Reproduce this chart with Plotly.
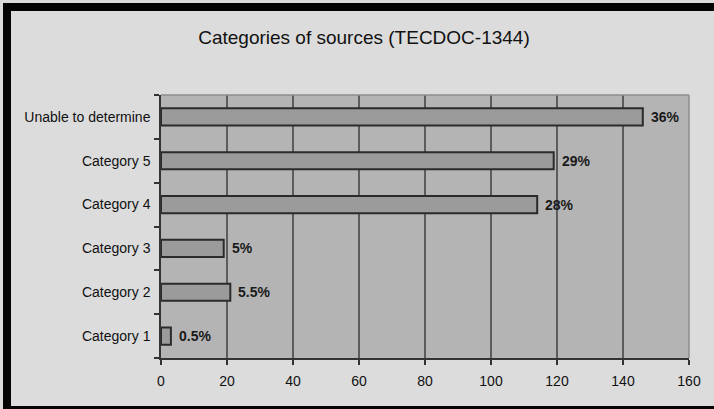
import plotly.graph_objects as go

# Source counts by category (bottom to top on the chart)
categories = ["Category 1", "Category 2", "Category 3", "Category 4", "Category 5", "Unable to determine"]
counts = [3, 21, 19, 114, 119, 146]
share_labels = ["0.5%", "5.5%", "5%", "28%", "29%", "36%"]
x_ticks = [0, 20, 40, 60, 80, 100, 120, 140, 160]

W, H = 714, 409
M_L, M_R, M_T, M_B = 161, 25, 95, 51
PW, PH = W - M_L - M_R, H - M_T - M_B


def px_x(p):
    """Pixel column -> paper x."""
    return (p - M_L) / PW


def px_y(p):
    """Pixel row -> paper y."""
    return (H - M_B - p) / PH


FONT = "Liberation Sans, Arial, sans-serif"

fig = go.Figure(
    go.Bar(
        x=counts,
        y=categories,
        orientation="h",
        marker=dict(color="#9b9b9b", line=dict(color="#2b2b2b", width=2)),
        hoverinfo="skip",
    )
)

# share labels just past the end of each bar
for cat, val, lab in zip(categories, counts, share_labels):
    fig.add_annotation(
        x=val, y=cat, xref="x", yref="y",
        text=f"<b>{lab}</b>", showarrow=False,
        xanchor="left", yanchor="middle", xshift=6,
        font=dict(family=FONT, size=14, color="#1a1a1a"),
    )

frame = "#050505"
shapes = [
    # dark frame on the top, left and bottom edges
    dict(type="rect", xref="paper", yref="paper", x0=px_x(3), x1=px_x(W), y0=px_y(11), y1=px_y(3),
         fillcolor=frame, line_width=0, layer="above"),
    dict(type="rect", xref="paper", yref="paper", x0=px_x(3), x1=px_x(11), y0=px_y(409), y1=px_y(3),
         fillcolor=frame, line_width=0, layer="above"),
    dict(type="rect", xref="paper", yref="paper", x0=px_x(3), x1=px_x(W), y0=px_y(409), y1=px_y(406),
         fillcolor=frame, line_width=0, layer="above"),
    # lighter border on the top and right of the plot area
    dict(type="line", xref="paper", yref="paper", x0=0, x1=1, y0=1, y1=1,
         line=dict(color="#8e8e8e", width=1.5), layer="above"),
    dict(type="line", xref="paper", yref="paper", x0=1, x1=1, y0=0, y1=1,
         line=dict(color="#8e8e8e", width=1.5), layer="above"),
]

fig.update_layout(
    width=W,
    height=H,
    margin=dict(l=M_L, r=M_R, t=M_T, b=M_B),
    paper_bgcolor="#dcdcdc",
    plot_bgcolor="#b4b4b4",
    showlegend=False,
    bargap=0.61,
    font=dict(family=FONT, color="#111111"),
    title=dict(
        text="Categories of sources (TECDOC-1344)",
        x=364 / W,
        xanchor="center",
        y=1 - 37 / H,
        yanchor="middle",
        font=dict(family=FONT, size=19, color="#111111"),
    ),
    xaxis=dict(
        range=[0, 160],
        tickvals=x_ticks,
        ticks="outside",
        ticklen=5,
        tickcolor="#333333",
        tickwidth=1.5,
        showline=True,
        linecolor="#333333",
        linewidth=1.5,
        showgrid=True,
        gridcolor="#5c5c5c",
        gridwidth=1.5,
        zeroline=False,
        tickfont=dict(size=14),
        ticklabelstandoff=4,
    ),
    yaxis=dict(
        ticks="outside",
        tickson="boundaries",
        ticklen=5,
        tickcolor="#333333",
        tickwidth=1.5,
        showline=True,
        linecolor="#333333",
        linewidth=1.5,
        showgrid=False,
        tickfont=dict(size=14),
        ticklabelstandoff=6,
    ),
    shapes=shapes,
)

fig.write_html("out.html")
